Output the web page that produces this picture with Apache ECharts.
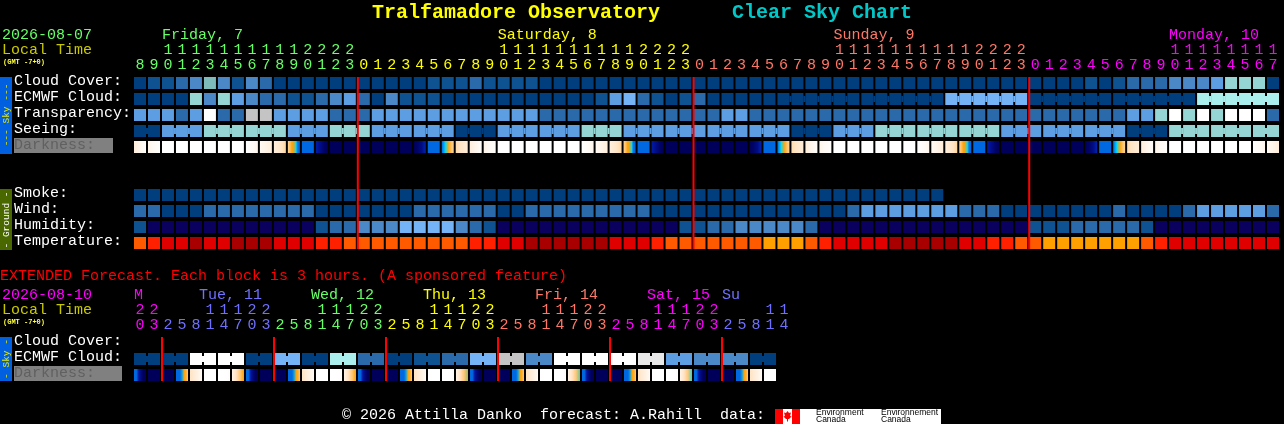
<!DOCTYPE html>
<html><head><meta charset="utf-8">
<style>html,body{margin:0;padding:0;background:#000}#c{width:1284px;height:424px}</style>
<script src="https://cdn.jsdelivr.net/npm/echarts@6/dist/echarts.min.js"></script>
</head><body><div id="c"></div>
<script>
const rowLabels = ['Cloud Cover:','ECMWF Cloud:','Transparency:','Seeing:','Darkness:  ','','','Smoke:','Wind:','Humidity:','Temperature:'];
const extRowLabels = ['Cloud Cover:','ECMWF Cloud:','Darkness:   '];
const hourOnes = '8 9 0 1 2 3 4 5 6 7 8 9 0 1 2 3 0 1 2 3 4 5 6 7 8 9 0 1 2 3 4 5 6 7 8 9 0 1 2 3 0 1 2 3 4 5 6 7 8 9 0 1 2 3 4 5 6 7 8 9 0 1 2 3 0 1 2 3 4 5 6 7 8 9 0 1 2 3 4 5 6 7'.split(' ');
const hourTens = ['','','1','1','1','1','1','1','1','1','1','1','2','2','2','2','','','','','','','','','','','1','1','1','1','1','1','1','1','1','1','2','2','2','2','','','','','','','','','','','1','1','1','1','1','1','1','1','1','1','2','2','2','2','','','','','','','','','','','1','1','1','1','1','1','1','1'];
const dayNames = {2:'Friday, 7',26:'Saturday, 8',50:'Sunday, 9',74:'Monday, 10'};
const extOnes = '0 3 2 5 8 1 4 7 0 3 2 5 8 1 4 7 0 3 2 5 8 1 4 7 0 3 2 5 8 1 4 7 0 3 2 5 8 1 4 7 0 3 2 5 8 1 4'.split(' ');
const extTens = ['2','2','','','','1','1','1','2','2','','','','1','1','1','2','2','','','','1','1','1','2','2','','','','1','1','1','2','2','','','','1','1','1','2','2','','','','1','1'];
const extDayNames = {0:'M',4:' Tue, 11',12:' Wed, 12',20:' Thu, 13',28:' Fri, 14',36:' Sat, 15',42:'Su'};
const midnights = [16,40,64];
const extMidnights = [2,10,18,26,34,42];

const cloudCover = [0,1,1,2,3,6,3,1,3,2,0,0,0,0,0,0,0,0,0,0,0, 1,1,1,2,1,1,1,1,0,0,0,0,0,0,0,0,0,0,0,0,0,0,0,0,0,0,0,0,0,0,0, 0,0,0,0,0,0,0,0,0,0,0,0,0,0,0,0,1,0,1,2,2,2,3,3,3,4,7,7,7,0];
const ecmwf = [0,0,0,0,7,3,7,4,3,2,2,1,1,2,3,4,2,0,3,1,1, 1,0,0,0,0,0,0,0,0,0,0,0,1,4,5,2,1,0,1,2,0,0,0,0,0,0,0,0,0,0,0, 0,0,0,0,0,0,5,5,5,5,5,5,0,0,0,0,0,0,0,0,0,0,0,0,8,8,8,8,8,8];
const transparency = [4,4,4,2,4,9,2,2,10,10,4,4,4,4,2,2,2,4,4,4,4, 4,4,4,4,4,4,4,4,2,2,2,2,2,2,2,2,2,2,2,2,2,4,4,2,2,2,2,2,2,2,2, 2,2,2,2,2,2,2,2,2,2,2,2,2,2,2,2,2,2,2,4,4,7,9,7,9,7,9,9,9,2];
const seeing = [0,0,4,4,4,7,7,7,7,7,7,4,4,4,7,7,7,4,4,4,4, 4,4,0,0,0,4,4,4,4,4,4,7,7,7,4,4,4,4,4,4,4,4,4,4,4,4,0,0,0,4,4, 4,7,7,7,7,7,7,7,7,7,4,4,4,4,4,4,4,4,4,0,0,0,7,7,7,7,7,7,7,7];
const smoke = [0,0,0,0,0,0,0,0,0,0,0,0,0,0,0,0,0,0,0,0,0,0,0,0,0,0,0,0,0,0,0,0,0,0,0,0,0,0,0,0,0,0,0,0,0,0,0,0,0,0,0,0,0,0,0,0,0,0];
const wind = [2,2,0,0,0,2,2,2,2,2,2,2,2,0,0,0,0,0,0,0,2, 2,2,2,2,2,0,0,2,2,2,2,2,2,2,2,2,0,0,0,0,0,0,0,0,0,0,0,0,0,0,2, 4,4,4,4,4,4,4,2,2,2,0,0,0,0,0,0,0,0,2,0,0,0,0,2,4,4,4,4,4,2];
const humidity = [1,11,11,11,11,11,11,11,11,11,11,11,11,1,2,2,3,3,3,5,5, 5,5,3,2,1,11,11,11,11,11,11,11,11,11,11,11,11,11,1,1,2,2,3,3,3,3,3,2,11,11,11, 11,11,11,11,11,11,11,11,11,11,11,11,1,1,1,2,2,2,2,2,1,11,11,11,11,11,11,11,11,11];
const temperature = [3,2,1,1,0,1,1,0,0,0,1,1,1,2,2,3,3,3,3,3,3, 3,3,3,2,2,1,1,0,0,0,0,0,0,1,1,1,2,3,3,3,3,3,3,3,4,4,4,3,2,1,1, 1,1,0,0,0,0,0,1,1,2,2,3,3,4,4,4,4,4,4,4,3,2,1,1,1,1,1,1,1,1];
const extEcmwf = [0,0,0,0,9,9,9,9,0,0,5,5,0,0,8,8,2,2,0,0,1,1,2,2,5,5,10,10,3,3,9,9,9,9,9,9,12,12,4,4,3,3,3,3,0,0];

const darkness = [
[1.3,.9,.5,.2],[.8,.5,.3,.1],[0,0],[0,0],[0,0],[0,0],[0,0],[0,0],[0,.2,.4,.7],[.4,.7,1,1.3],[1.2,1.6,2,2.5],[2.6,3.2,3.9,4.1,5,6,6],[6,6],[6.9,7.3,7.8,8],
[8,8],[8,8],[8,8],[8,8],[8,8],[8,8],[8,7.8,7.4,6.8],[6,6],[6,5.5,5,4.1,3.6,3,2.6],[2.3,2,1.7,1.4],
[1.3,.9,.5,.2],[.8,.5,.3,.1],[0,0],[0,0],[0,0],[0,0],[0,0],[0,0],[0,.2,.4,.7],[.4,.7,1,1.3],[1.2,1.6,2,2.5],[2.6,3.2,3.9,4.1,5,6,6],[6,6],[6.9,7.3,7.8,8],
[8,8],[8,8],[8,8],[8,8],[8,8],[8,8],[8,7.8,7.4,6.8],[6,6],[6,5.5,5,4.1,3.6,3,2.6],[2.3,2,1.7,1.4],
[1.3,.9,.5,.2],[.8,.5,.3,.1],[0,0],[0,0],[0,0],[0,0],[0,0],[0,0],[0,.2,.4,.7],[.4,.7,1,1.3],[1.2,1.6,2,2.5],[2.6,3.2,3.9,4.1,5,6,6],[6,6],[6.9,7.3,7.8,8],
[8,8],[8,8],[8,8],[8,8],[8,8],[8,8],[8,7.8,7.4,6.8],[6,6],[6,5.5,5,4.1,3.6,3,2.6],[2.3,2,1.7,1.4],
[1.3,.9,.5,.2],[.8,.5,.3,.1],[0,0],[0,0],[0,0],[0,0],[0,0],[0,0],[0,.2,.4,.7],[.4,.7,1,1.3]];
const extDarkness = [
[6,6,7,7.6,8,8],[8,8],[8,8],[6,6,6,5.5,4,3.6,3],[2,1.5,1,.3],[0,0],[0,0,0,.2],[1,2,3,4],
[6,6,7,7.6,8,8],[8,8],[8,8],[6,6,6,5.5,4,3.6,3],[2,1.5,1,.3],[0,0],[0,0,0,.2],[1,2,3,4],
[6,6,7,7.6,8,8],[8,8],[8,8],[6,6,6,5.5,4,3.6,3],[2,1.5,1,.3],[0,0],[0,0,0,.2],[1,2,3,4.4],
[6,6,7,7.6,8,8],[8,8],[8,8],[6,6,6,5.5,4,3.6,3],[2,1.5,1,.3],[0,0],[0,0,0,.2],[1,2,3,4.6],
[6,6,7,7.6,8,8],[8,8],[8,8],[6,6,6,5.5,4,3.6,3],[2,1.5,1,.3],[0,0],[0,0,0,.2],[1,2,3,4.85],
[6,6,7,7.6,8,8],[8,8],[8,8],[6,6,6,5.5,4,3.6,3],[2,1.5,1,.3],[0,0]];

const levelColors = ['#003e7e','#0f5292','#2b6aaa','#4a88c8','#5d9de2','#74b4f6','#7ebcbc','#95d6d4','#abeeee','#ffffff','#c4c4c4','#0a005e','#e8e8e8'];
const tempColors = ['#a80000','#e00000','#ff2000','#ff5a00','#ffa000'];
const darkColors = ['#ffffff','#fff2e4','#ffe4c4','#ffc878','#ffa000','#00e0ff','#0068e0','#0014a0','#00005a'];
const GREEN='#66ff66',YEL='#ffff00',SAL='#ff7766',MAG='#ff00ff',BLU='#7070ff';
const FONT='"Liberation Mono"';

function hex(c){return [1,3,5].map(k=>parseInt(c.substr(k,2),16));}
function darkColor(v){const a=Math.min(Math.floor(v),7),t=v-a,p=hex(darkColors[a]),q=hex(darkColors[a+1]);
  return 'rgb('+p.map((x,k)=>Math.round(x+(q[k]-x)*t)).join(',')+')';}
function mainColor(i){return i<16?GREEN:i<40?YEL:i<64?SAL:MAG;}
function extColor(i){return i<2?MAG:i<10?BLU:i<18?GREEN:i<26?YEL:i<34?SAL:i<42?MAG:BLU;}

function cells(arr,row,neckFn){return arr.map((v,i)=>[i,row,v,neckFn&&neckFn(i)&&i<arr.length-1?1:0]);}
const mainCells=[].concat(
 cells(cloudCover,0),
 cells(ecmwf,1,i=>i>=46&&(i-46)%6!==5),
 cells(transparency,2),
 cells(seeing,3,i=>i<2?i===0:(i-2)%3!==2),
 cells(smoke,7),cells(wind,8),cells(humidity,9),cells(temperature,10));
const extCells=cells(extEcmwf,1,i=>i%2===0);

function renderCell(pal){return function(p,api){
  const c=api.coord([api.value(0),api.value(1)]),s=api.size([1,1]);
  const x=c[0]-s[0]/2,y=c[1]-s[1]/2,row=api.value(1);
  const palette=(pal===levelColors&&row===10)?tempColors:pal;
  const fill=palette[api.value(2)];
  const kids=[{type:'rect',shape:{x,y,width:s[0]-2,height:s[1]-4},style:{fill}}];
  if(api.value(3))kids.push({type:'rect',shape:{x:x+s[0]-2,y:y+3,width:2,height:s[1]-10},style:{fill}});
  return {type:'group',children:kids};};}
function renderDark(list){return function(p,api){
  const c=api.coord([api.value(0),api.value(1)]),s=api.size([1,1]);
  const smp=list[api.value(0)];
  const stops=smp.map((v,k)=>({offset:k/(smp.length-1),color:darkColor(v)}));
  return {type:'rect',shape:{x:c[0]-s[0]/2,y:c[1]-s[1]/2,width:s[0]-2,height:s[1]-4},
    style:{fill:new echarts.graphic.LinearGradient(0,0,1,0,stops)}};};}
function renderLine(lastRow){return function(p,api){
  const t=api.coord([api.value(0),0]),b=api.coord([api.value(0),lastRow]),s=api.size([1,1]);
  return {type:'rect',shape:{x:t[0]-s[0]/2-1,y:t[1]-s[1]/2,width:2,height:b[1]-t[1]+s[1]-4},style:{fill:'#ff0000'}};};}

function tiers(ones,tens,days,dayColor,ones_color,grid){
  const n=ones.length,base={type:'category',gridIndex:grid,position:'top',axisLine:{show:false},axisTick:{show:false},splitLine:{show:false}};
  const lbl=c=>({interval:0,margin:4,fontFamily:FONT,fontSize:15,color:c,hideOverlap:false,showMinLabel:true,showMaxLabel:true,padding:[0,2,0,0]});
  const dayData=[];for(let i=0;i<=n;i++)dayData.push(days[i]||'');
  return [
   {...base,data:ones,offset:0,axisLabel:lbl((v,i)=>ones_color(i))},
   {...base,data:tens,offset:15,axisLabel:lbl((v,i)=>ones_color(i))},
   {...base,data:dayData,offset:30,boundaryGap:false,axisLabel:{...lbl((v,i)=>dayColor(i)),align:'left',padding:0}}
  ];}
function yAxisFor(labels,grid,w){return {type:'category',gridIndex:grid,inverse:true,data:labels,
  axisLine:{show:false},axisTick:{show:false},splitLine:{show:false},
  axisLabel:{interval:0,align:'left',margin:120,fontFamily:FONT,fontSize:15,color:'#ffffff',padding:[0,0,7,0],
    formatter:v=>v.startsWith('Darkness')?'{d|'+v+'}':'{n|'+v+'}',
    rich:{n:{fontFamily:FONT,fontSize:15,color:'#ffffff'},
          d:{fontFamily:FONT,fontSize:15,color:'#606060',backgroundColor:'#808080',width:w,height:15}}}};}

function t(text,x,y,fill,size,weight){return {type:'text',x,y,silent:true,style:{text,fill,font:(weight||'normal')+' '+size+'px '+FONT,align:'left',verticalAlign:'middle'}};}
function rt(text,x,y,fill,size){return {type:'text',x,y,rotation:Math.PI/2,silent:true,style:{text,fill,font:size+'px '+FONT,align:'center',verticalAlign:'middle'}};}
function rc(x,y,w,h,fill){return {type:'rect',silent:true,shape:{x,y,width:w,height:h},style:{fill}};}

const chart=echarts.init(document.getElementById('c'),null,{renderer:'canvas'});
chart.setOption({
 animation:false,backgroundColor:'#000000',
 title:[
  {text:'Tralfamadore Observatory',left:372,top:3,padding:0,textStyle:{color:'#ffff00',fontFamily:FONT,fontWeight:'bold',fontSize:20}},
  {text:'Clear Sky Chart',left:732,top:3,padding:0,textStyle:{color:'#00c8c8',fontFamily:FONT,fontWeight:'bold',fontSize:20}}
 ],
 grid:[{left:134,top:77,width:1148,height:176},{left:134,top:337,width:658,height:48}],
 xAxis:[
  ...tiers(hourOnes,hourTens,dayNames,i=>i<26?GREEN:i<50?YEL:i<74?SAL:MAG,mainColor,0),
  ...tiers(extOnes,extTens,extDayNames,i=>({0:MAG,4:BLU,12:GREEN,20:YEL,28:SAL,36:MAG,42:BLU})[i]||BLU,extColor,1)
 ],
 yAxis:[yAxisFor(rowLabels,0,99),yAxisFor(extRowLabels,1,108)],
 series:[
  {type:'custom',xAxisIndex:0,yAxisIndex:0,data:mainCells,renderItem:renderCell(levelColors),silent:true},
  {type:'custom',xAxisIndex:0,yAxisIndex:0,data:darkness.map((d,i)=>[i,4]),renderItem:renderDark(darkness),silent:true},
  {type:'custom',xAxisIndex:0,yAxisIndex:0,data:midnights.map(i=>[i]),renderItem:renderLine(10),silent:true,z:5},
  {type:'custom',xAxisIndex:3,yAxisIndex:1,data:extCells,renderItem:renderCell(levelColors),silent:true},
  {type:'custom',xAxisIndex:3,yAxisIndex:1,data:extDarkness.map((d,i)=>[i,2]),renderItem:renderDark(extDarkness),silent:true},
  {type:'custom',xAxisIndex:3,yAxisIndex:1,data:extMidnights.map(i=>[i]),renderItem:renderLine(2),silent:true,z:5}
 ],
 graphic:[
  t('2026-08-07',2,35,GREEN,15), t('Local Time',2,50,'#c8c800',15), t('(GMT -7+0)',3,62,'#ffff40',7,'bold'),
  t('2026-08-10',2,295,MAG,15), t('Local Time',2,310,'#c8c800',15), t('(GMT -7+0)',3,322,'#ffff40',7,'bold'),
  t('EXTENDED Forecast. Each block is 3 hours. (A sponsored feature)',0,276,'#ff0000',15),
  rc(0,77,12,77,'#0060e0'), rt('--- Sky ---',6,115,'#e8e800',9.5),
  rc(0,189,12,61,'#4a6800'), rt('- Ground -',6,220,'#ffffff',9.5),
  rc(0,337,12,44,'#0060e0'), rt('- Sky -',6,359,'#e8e800',9.5),
  t('\u00a9 2026 Attilla Danko  forecast: A.Rahill  data:',342,415,'#ffffff',15),
  rc(775,409,166,15,'#ffffff'), rc(775,409,8,15,'#ff0000'), rc(792,409,8,15,'#ff0000'),
  {type:'polygon',silent:true,shape:{points:[[787.5,411],[789,413],[791,412.5],[790,416],[791.5,416.5],[789,419],[788,419],[788,421.5],[787,421.5],[787,419],[786,419],[783.5,416.5],[785,416],[784,412.5],[786,413]]},style:{fill:'#ff0000'}},
  {type:'text',silent:true,x:816,y:413,style:{text:'Environment',fill:'#000',font:'8.5px "Liberation Sans"',align:'left',verticalAlign:'middle'}},
  {type:'text',silent:true,x:816,y:420,style:{text:'Canada',fill:'#000',font:'8.5px "Liberation Sans"',align:'left',verticalAlign:'middle'}},
  {type:'text',silent:true,x:881,y:413,style:{text:'Environnement',fill:'#000',font:'8.5px "Liberation Sans"',align:'left',verticalAlign:'middle'}},
  {type:'text',silent:true,x:881,y:420,style:{text:'Canada',fill:'#000',font:'8.5px "Liberation Sans"',align:'left',verticalAlign:'middle'}}
 ]
});
</script></body></html>
